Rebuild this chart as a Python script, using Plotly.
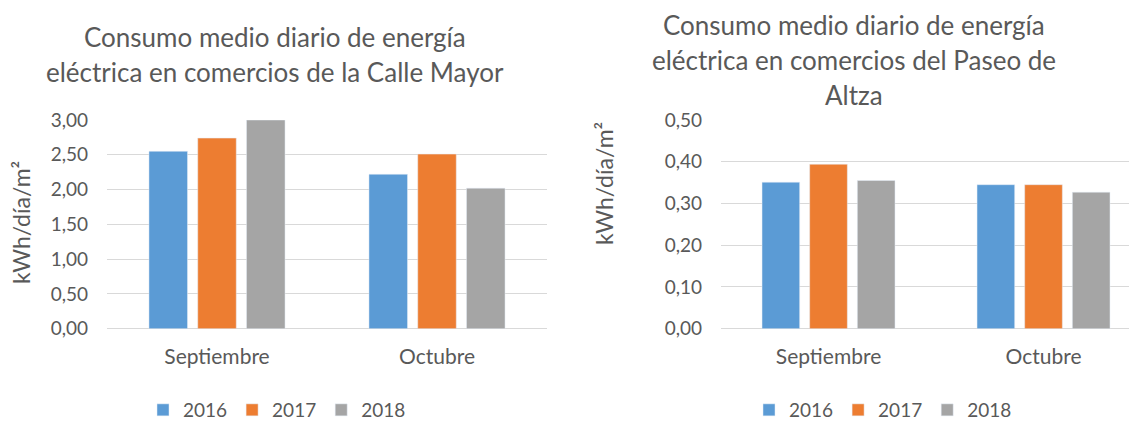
import plotly.graph_objects as go

# data
months = ["Septiembre", "Octubre"]
years = ["2016", "2017", "2018"]
colors = ["#5B9BD5", "#ED7D31", "#A5A5A5"]

mayor_2016 = [2.55, 2.22]
mayor_2017 = [2.74, 2.51]
mayor_2018 = [3.00, 2.02]

altza_2016 = [0.351, 0.345]
altza_2017 = [0.394, 0.345]
altza_2018 = [0.355, 0.327]

title_mayor = ["Consumo medio diario de energía",
               "eléctrica en comercios de la Calle Mayor"]
title_altza = ["Consumo medio diario de energía",
               "eléctrica en comercios del Paseo de",
               "Altza"]
ytitle = "kWh/día/m²"

W, H = 1137, 421
OFF = 8  # page body margin
FONT = "Lato"
TXT = "#595959"
GRID = "#D9D9D9"

def px(x):
    return (x - OFF) / W

def py(y):
    return 1 - (y - OFF) / H

fig = go.Figure()

for yr, col, vals in zip(years, colors, [mayor_2016, mayor_2017, mayor_2018]):
    fig.add_trace(go.Bar(x=months, y=vals, name=yr, marker_color=col,
                         xaxis="x", yaxis="y", legend="legend"))

for yr, col, vals in zip(years, colors, [altza_2016, altza_2017, altza_2018]):
    fig.add_trace(go.Bar(x=months, y=vals, name=yr, marker_color=col,
                         xaxis="x2", yaxis="y2", legend="legend2"))

ydom = [py(328.7), py(120)]
yaxis_common = dict(showgrid=True, gridcolor=GRID, gridwidth=1,
                    zeroline=True, zerolinecolor=GRID, zerolinewidth=1,
                    showline=False, tickformat=".2f", ticks="", automargin=False,
                    tickfont=dict(family=FONT, size=19, color=TXT),
                    ticklabelstandoff=18)
xaxis_common = dict(showgrid=False, zeroline=False, showline=False, ticks="",
                    automargin=False,
                    tickfont=dict(family=FONT, size=21, color=TXT),
                    ticklabelstandoff=13)

legend_common = dict(orientation="h", y=py(410), xanchor="center", yanchor="middle",
                     font=dict(family=FONT, size=19, color=TXT), traceorder="normal")

fig.update_layout(
    width=W, height=H, autosize=False,
    margin=dict(l=0, r=0, t=0, b=0),
    paper_bgcolor="white", plot_bgcolor="white",
    separators=",.",
    barmode="group", bargap=0.335, bargroupgap=0.21,
    xaxis=dict(domain=[px(107), px(547)], anchor="y", **xaxis_common),
    yaxis=dict(domain=ydom, anchor="x", range=[0, 3], dtick=0.5, **yaxis_common),
    xaxis2=dict(domain=[px(721), 1.0], anchor="y2", range=[-0.5, 1.472], **xaxis_common),
    yaxis2=dict(domain=ydom, anchor="x2", range=[0, 0.5], dtick=0.1, **yaxis_common),
    legend=dict(x=px(277), **legend_common),
    legend2=dict(x=px(883), **legend_common),
    showlegend=True,
)

# chart titles, one annotation per line to match the spacing
for i, line in enumerate(title_mayor):
    fig.add_annotation(text=line, x=px(275), y=py(37 + 35 * i), xref="paper", yref="paper",
                       xanchor="center", yanchor="middle", showarrow=False,
                       font=dict(family=FONT, size=26, color=TXT))
for i, line in enumerate(title_altza):
    fig.add_annotation(text=line, x=px(854), y=py(25 + 35 * i), xref="paper", yref="paper",
                       xanchor="center", yanchor="middle", showarrow=False,
                       font=dict(family=FONT, size=26, color=TXT))

# y axis titles
fig.add_annotation(text=ytitle, x=px(21), y=py(223), xref="paper", yref="paper",
                   xanchor="center", yanchor="middle", textangle=-90, showarrow=False,
                   font=dict(family=FONT, size=23, color=TXT))
fig.add_annotation(text=ytitle, x=px(604), y=py(184), xref="paper", yref="paper",
                   xanchor="center", yanchor="middle", textangle=-90, showarrow=False,
                   font=dict(family=FONT, size=23, color=TXT))

fig.write_html("out.html")
